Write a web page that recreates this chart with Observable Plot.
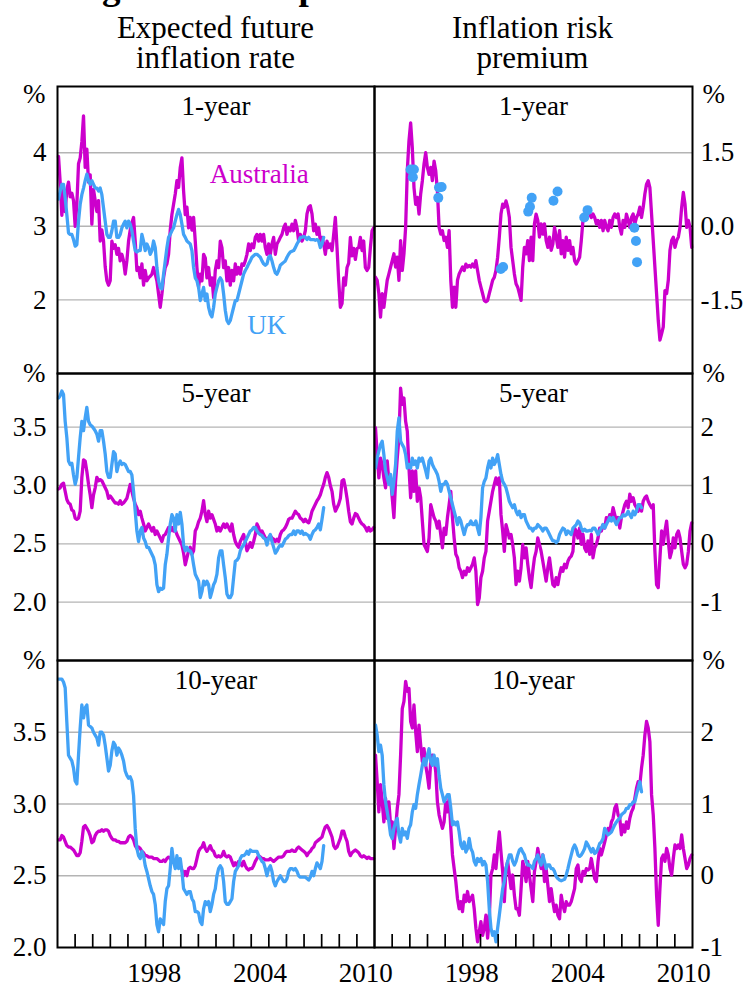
<!DOCTYPE html>
<html>
<head>
<meta charset="utf-8">
<script src="https://cdn.jsdelivr.net/npm/d3@7"></script>
<script src="https://cdn.jsdelivr.net/npm/@observablehq/plot@0.6"></script>
<style>
  body { margin: 0; background: #fff; }
  #page { position: relative; width: 747px; height: 985px; overflow: hidden; background: #fff;
          font-family: "Liberation Serif", "Times New Roman", serif; color: #000; }
  .main-title { position: absolute; left: 69px; top: -32px; font-size: 37px; line-height: 37px;
                font-weight: bold; white-space: nowrap; }
  .col-title { position: absolute; width: 317px; text-align: center;
               font-size: 31px; line-height: 30px; white-space: nowrap; }
  .panel { position: absolute; }
</style>
</head>
<body>
<div id="page">
  <div class="main-title">Figure 9: Comparison with UK Estimates</div>
  <div class="col-title" style="left:57px;top:13px">Expected future</div>
  <div class="col-title" style="left:57px;top:43px">inflation rate</div>
  <div class="col-title" style="left:374px;top:13px">Inflation risk</div>
  <div class="col-title" style="left:374px;top:43px">premium</div>
</div>
<script>
// ---------- data (samples every ~4.9 weeks, first sample early Jan 1993) ----------
const START = 1993.057;
const STEP = 0.0947;

const auExp1 = [3.95,3.6,3.15,3.5,3.2,3.5,3.6,3.4,3.45,3.35,
3.0,3.3,3.85,3.93,4.15,4.5,3.8,4.05,3.6,3.7,
3.03,3.5,3.35,3.2,3.35,2.8,2.95,2.8,2.45,2.26,
2.2,2.26,2.8,2.7,2.75,2.62,2.7,2.53,2.62,2.53,
2.35,2.53,2.8,2.95,3.05,3.12,2.8,2.4,2.44,2.3,
2.49,2.2,2.4,2.26,2.3,2.32,2.35,2.44,2.35,2.26,
2.08,1.9,2.08,2.3,2.44,2.49,2.62,2.95,3.16,3.3,
3.44,3.62,3.53,3.8,3.93,3.48,3.16,3.26,2.98,3.12,
2.95,3.12,2.8,2.44,2.17,2.35,2.26,2.62,2.57,2.3,
2.44,2.2,2.3,2.03,2.4,2.53,2.44,2.8,2.71,2.44,
2.53,2.26,2.44,2.2,2.4,2.26,2.49,2.35,2.44,2.35,
2.49,2.47,2.53,2.62,2.76,2.67,2.76,2.71,2.85,2.89,
2.8,2.89,2.8,2.89,2.71,2.62,2.76,2.62,2.76,2.85,
2.62,2.76,2.8,2.85,2.89,2.98,3.03,2.89,2.98,2.94,
3.03,2.94,3.08,2.98,2.8,2.89,2.8,2.85,2.94,3.17,
3.26,3.28,3.17,2.94,3.03,2.89,2.98,2.8,2.85,2.76,
2.62,2.8,2.71,2.76,2.67,2.89,3.12,2.71,2.26,1.9,
1.95,2.3,2.2,2.44,2.5,2.85,2.6,2.7,2.55,2.7,
2.71,2.85,2.67,2.8,2.44,2.4,2.44,2.71,2.94,2.98];

const ukExp1 = [3.37,3.48,3.57,3.57,3.39,3.16,2.91,2.89,2.89,2.82,
2.73,2.75,3.07,3.3,3.43,3.52,3.62,3.71,3.62,3.57,
3.62,3.57,3.52,3.52,3.48,3.52,3.43,3.25,3.07,2.89,
2.85,2.85,2.94,3.07,3.07,2.85,2.85,2.89,2.98,3.03,
3.07,2.98,3.07,3.03,2.94,2.8,2.67,2.65,2.67,2.67,
2.89,2.8,2.67,2.76,2.71,2.62,2.67,2.8,2.71,2.44,
2.26,2.17,2.15,2.35,2.53,2.71,2.85,2.89,2.94,2.98,
3.07,3.16,3.23,3.16,3.03,2.89,2.85,2.8,2.78,2.76,
2.67,2.44,2.3,2.26,2.17,1.99,2.08,2.17,1.99,2.08,
1.9,1.81,1.77,1.9,2.08,2.17,2.26,2.3,2.26,2.08,
1.86,1.72,1.68,1.72,1.81,1.9,1.99,1.99,2.08,2.17,
2.26,2.35,2.4,2.44,2.49,2.53,2.58,2.6,2.62,2.62,
2.6,2.58,2.53,2.49,2.47,2.49,2.58,2.6,2.53,2.44,
2.37,2.35,2.4,2.47,2.49,2.51,2.53,2.58,2.62,2.65,
2.66,2.67,2.71,2.76,2.8,2.85,2.85,2.86,2.85,2.82,
2.85,2.82,2.82,2.82,2.81,2.82,2.8,2.71,2.76,2.85];

const auRisk1 = [-1.04,-1.1,-1.37,-1.85,-1.37,-1.65,-1.37,-1.1,-0.97,-0.83,
-0.7,-0.56,-0.83,-0.63,-1.1,-0.29,-0.9,-0.56,-0.02,1.13,
1.74,2.11,1.6,0.79,0.45,0.59,0.25,0.66,0.93,1.27,
1.5,1.2,1.06,1.2,0.93,1.33,1.13,0.72,-0.02,-0.16,
-0.09,-0.29,-0.22,-0.43,-0.09,-1.1,-1.65,-1.24,-1.65,-1.1,
-0.97,-0.9,-0.83,-0.9,-0.77,-0.83,-0.8,-0.83,-0.77,-0.83,
-0.7,-0.9,-1.1,-1.24,-1.37,-1.51,-1.54,-1.51,-1.37,-1.24,
-1.1,-1.04,-0.9,-0.63,-0.22,0.25,0.45,0.39,0.52,0.39,
0.18,-0.43,-0.7,-0.97,-1.17,-1.24,-1.37,-1.51,-0.83,-0.43,
-0.56,-0.29,-0.7,-0.22,-0.7,0.05,0.25,0.12,-0.22,0.05,
-0.16,0.05,-0.29,-0.43,-0.22,-0.49,-0.36,-0.02,-0.22,-0.43,
-0.09,-0.56,-0.29,-0.63,-0.22,-0.49,-0.29,-0.56,-0.43,-0.7,
-0.77,-0.7,-0.63,-0.29,0.12,0.18,0.25,0.32,0.25,0.18,
0.25,0.18,0.05,0.12,-0.02,0.12,-0.09,0.12,-0.02,-0.09,
0.12,-0.02,0.18,0.25,0.18,0.25,-0.02,-0.16,0.12,-0.02,
0.25,0.12,-0.02,0.18,0.25,0.05,0.18,0.25,0.39,0.18,
0.39,0.66,0.86,0.93,0.79,0.25,-0.29,-0.83,-1.37,-1.92,
-2.32,-2.19,-2.05,-1.31,-1.37,-1.1,-0.49,-0.29,-0.22,-0.43,
-0.29,-0.22,-0.02,0.39,0.69,0.45,-0.02,0.12,-0.02,-0.43];

// UK 1-year risk premium: isolated estimates (year, %)
const ukRisk1Dates = [1995.04,1995.23,1995.17,1996.65,1996.80,1996.61,2000.15,2000.28,2001.70,2001.80,2001.90,2003.13,2003.36,2004.87,2005.06,2007.71,2007.80,2007.86];
const ukRisk1Vals  = [1.16,1.16,1.0,0.79,0.8,0.58,-0.87,-0.83,0.3,0.4,0.58,0.52,0.71,0.18,0.33,-0.03,-0.3,-0.73];

const auExp5 = [2.97,2.98,3.01,3.02,2.95,2.88,2.85,2.84,2.79,2.78,
2.72,2.71,2.72,2.78,3.07,3.22,3.21,3.12,3.01,2.92,
2.81,2.92,2.98,3.07,3.04,3.05,3.04,3.01,2.98,2.95,
2.89,2.91,2.89,2.87,2.85,2.85,2.84,2.87,2.84,2.85,
2.87,2.89,2.95,3.01,2.95,2.89,2.84,2.81,2.75,2.78,
2.72,2.67,2.61,2.64,2.67,2.64,2.61,2.64,2.58,2.61,
2.58,2.55,2.52,2.57,2.58,2.61,2.64,2.61,2.64,2.61,
2.62,2.58,2.55,2.52,2.49,2.42,2.32,2.38,2.44,2.47,
2.41,2.44,2.61,2.64,2.69,2.72,2.78,2.87,2.75,2.69,
2.78,2.72,2.75,2.71,2.67,2.61,2.64,2.61,2.64,2.67,
2.64,2.67,2.64,2.61,2.67,2.58,2.52,2.49,2.47,2.52,
2.55,2.58,2.52,2.44,2.47,2.51,2.47,2.52,2.58,2.67,
2.64,2.58,2.61,2.58,2.55,2.54,2.55,2.57,2.55,2.54,
2.52,2.54,2.52,2.58,2.61,2.62,2.64,2.67,2.71,2.72,
2.72,2.75,2.78,2.76,2.75,2.72,2.71,2.69,2.71,2.69,
2.68,2.72,2.78,2.81,2.84,2.87,2.89,2.92,2.97,3.01,
3.07,3.11,3.07,3.0,2.95,2.84,2.78,2.81,2.84,2.89,
3.04,3.05,2.98,2.89,2.78,2.69,2.67,2.72,2.76,2.75,
2.72,2.69,2.67,2.66,2.64,2.61,2.64,2.61,2.62,2.64];

const ukExp5 = [3.75,3.77,3.81,3.78,3.55,3.41,3.21,3.18,3.19,3.09,
3.01,3.07,3.24,3.41,3.55,3.47,3.58,3.67,3.55,3.52,
3.51,3.49,3.47,3.44,3.38,3.47,3.47,3.38,3.27,3.12,
3.07,3.07,3.18,3.29,3.27,3.12,3.18,3.21,3.18,3.19,
3.18,3.15,3.12,3.12,3.09,2.95,2.78,2.61,2.52,2.61,
2.64,2.55,2.52,2.47,2.47,2.44,2.41,2.38,2.32,2.15,
2.09,2.12,2.11,2.12,2.32,2.41,2.55,2.67,2.75,2.72,
2.61,2.75,2.67,2.77,2.67,2.49,2.44,2.47,2.44,2.44,
2.41,2.32,2.24,2.21,2.18,2.04,2.09,2.18,2.15,2.18,
2.15,2.04,2.09,2.15,2.18,2.24,2.38,2.44,2.44,2.32,
2.21,2.07,2.04,2.04,2.07,2.21,2.35,2.36,2.38,2.44,
2.47,2.49,2.52,2.55,2.58,2.61,2.62,2.64,2.64,2.61,
2.59,2.58,2.57,2.55,2.54,2.49,2.55,2.58,2.52,2.47,
2.42,2.44,2.47,2.49,2.48,2.51,2.54,2.55,2.57,2.58,
2.58,2.61,2.58,2.61,2.61,2.59,2.61,2.58,2.59,2.58,
2.57,2.54,2.58,2.61,2.62,2.64,2.67,2.62,2.71,2.81];

const auRisk5 = [1.99,1.53,1.13,1.47,1.36,1.13,0.96,1.42,1.07,1.13,
0.79,0.45,1.07,1.47,1.82,2.67,2.39,2.5,2.1,1.93,
1.3,0.79,1.25,0.9,1.25,0.73,0.96,0.79,0.39,-0.01,
-0.07,-0.13,0.1,0.67,0.56,0.45,0.39,0.27,0.39,0.16,
-0.07,0.27,0.16,0.45,0.67,0.9,0.45,0.1,-0.18,-0.24,
-0.41,-0.47,-0.58,-0.47,-0.53,-0.41,-0.47,-0.41,-0.35,-0.24,
-0.47,-1.04,-0.93,-0.58,-0.47,-0.24,-0.13,0.39,0.56,0.73,
0.9,1.02,1.13,1.02,1.13,0.5,0.22,-0.13,0.33,0.22,
0.1,0.16,-0.01,-0.24,-0.7,-0.47,-0.64,-0.41,-0.01,-0.24,
-0.07,-0.35,-0.58,-0.75,-0.47,-0.24,-0.13,0.1,-0.01,-0.13,
-0.3,-0.47,-0.64,-0.41,-0.24,-0.47,-0.7,-0.73,-0.58,-0.7,
-0.53,-0.41,-0.47,-0.35,-0.41,-0.3,-0.24,-0.21,-0.13,0.27,
0.22,0.1,0.27,-0.01,0.16,-0.07,-0.13,0.05,-0.18,0.16,
-0.24,-0.07,-0.01,0.1,0.27,0.22,0.33,0.27,0.45,0.39,
0.5,0.45,0.62,0.5,0.39,0.45,0.27,0.45,0.56,0.67,
0.73,0.62,0.85,0.73,0.79,0.67,0.62,0.56,0.67,0.56,
0.73,0.79,0.82,0.73,0.67,0.62,0.67,-0.13,-0.7,-0.75,
-0.24,0.22,-0.01,0.22,0.39,0.05,-0.24,-0.13,0.1,-0.07,
0.16,0.22,0.1,-0.13,-0.35,-0.41,-0.35,-0.13,0.22,0.36];

const ukRisk5 = [1.3,1.47,1.59,1.7,1.76,1.53,1.25,1.13,1.02,1.19,
0.85,1.07,1.36,1.93,2.16,1.76,1.7,1.65,1.53,1.3,
1.36,1.3,1.47,1.36,1.42,1.3,1.47,1.42,1.47,1.36,
1.25,1.13,1.42,1.47,1.36,1.3,1.25,1.19,1.07,0.9,
1.02,1.02,1.07,1.02,0.9,0.79,0.67,0.56,0.45,0.33,
0.45,0.39,0.27,0.16,0.27,0.33,0.33,0.39,0.33,0.33,
0.39,0.27,0.16,0.45,0.96,1.07,1.13,1.3,1.42,1.3,
1.47,1.36,1.42,1.53,1.36,1.19,1.07,1.02,0.96,0.85,
0.73,0.67,0.62,0.67,0.56,0.5,0.56,0.45,0.5,0.5,
0.39,0.33,0.27,0.27,0.22,0.27,0.27,0.33,0.3,0.27,
0.22,0.27,0.27,0.22,0.16,0.1,0.05,0.05,0.02,0.05,
0.16,0.22,0.27,0.25,0.16,0.22,0.19,0.16,0.27,0.3,
0.33,0.39,0.36,0.27,0.22,0.25,0.22,0.22,0.23,0.22,
0.27,0.27,0.22,0.16,0.22,0.27,0.33,0.27,0.33,0.39,
0.45,0.39,0.45,0.39,0.33,0.39,0.45,0.45,0.5,0.48,
0.5,0.56,0.5,0.45,0.56,0.5,0.56,0.67,0.67,0.62];

const auExp10 = [2.75,2.75,2.78,2.77,2.74,2.71,2.7,2.7,2.69,2.68,
2.66,2.64,2.64,2.66,2.74,2.84,2.85,2.83,2.81,2.78,
2.73,2.74,2.78,2.8,2.81,2.81,2.82,2.81,2.82,2.82,
2.81,2.78,2.76,2.75,2.75,2.74,2.74,2.73,2.73,2.73,
2.73,2.74,2.77,2.78,2.77,2.75,2.71,2.69,2.7,2.69,
2.67,2.66,2.64,2.64,2.63,2.63,2.63,2.62,2.62,2.62,
2.61,2.6,2.6,2.61,2.6,2.62,2.63,2.62,2.6,2.59,
2.6,2.59,2.6,2.57,2.54,2.5,2.53,2.5,2.55,2.56,
2.55,2.55,2.57,2.62,2.67,2.69,2.7,2.73,2.69,2.67,
2.69,2.71,2.68,2.67,2.64,2.63,2.64,2.63,2.64,2.67,
2.64,2.63,2.64,2.63,2.6,2.57,2.59,2.57,2.6,2.59,
2.57,2.6,2.57,2.55,2.54,2.55,2.55,2.57,2.6,2.62,
2.64,2.63,2.62,2.62,2.61,2.61,2.61,2.62,2.61,2.6,
2.61,2.62,2.63,2.63,2.63,2.64,2.66,2.67,2.67,2.67,
2.68,2.67,2.67,2.69,2.7,2.69,2.68,2.67,2.66,2.64,
2.66,2.67,2.69,2.7,2.73,2.74,2.75,2.76,2.77,2.81,
2.84,2.85,2.83,2.8,2.77,2.71,2.69,2.7,2.73,2.76,
2.81,2.81,2.77,2.74,2.67,2.64,2.66,2.67,2.68,2.67,
2.66,2.64,2.63,2.64,2.63,2.62,2.63,2.62,2.62,2.62];

const ukExp10 = [3.87,3.87,3.87,3.85,3.81,3.57,3.34,3.32,3.3,3.25,
3.16,3.14,3.34,3.53,3.69,3.6,3.67,3.69,3.55,3.54,
3.53,3.5,3.48,3.46,3.41,3.5,3.5,3.48,3.41,3.32,
3.23,3.27,3.37,3.43,3.41,3.34,3.39,3.37,3.34,3.3,
3.23,3.2,3.18,3.19,3.16,3.06,2.83,2.69,2.64,2.62,
2.67,2.64,2.57,2.53,2.48,2.43,2.39,2.37,2.3,2.16,
2.11,2.2,2.18,2.16,2.32,2.41,2.43,2.55,2.69,2.6,
2.55,2.64,2.55,2.62,2.53,2.41,2.39,2.37,2.39,2.39,
2.34,2.32,2.25,2.25,2.24,2.18,2.16,2.27,2.32,2.3,
2.32,2.25,2.3,2.37,2.41,2.5,2.55,2.57,2.55,2.46,
2.32,2.3,2.3,2.32,2.34,2.46,2.53,2.55,2.57,2.62,
2.64,2.64,2.65,2.67,2.65,2.68,2.67,2.67,2.67,2.67,
2.64,2.62,2.6,2.59,2.55,2.5,2.55,2.57,2.53,2.46,
2.43,2.46,2.48,2.5,2.48,2.46,2.46,2.48,2.53,2.55,
2.55,2.54,2.55,2.53,2.5,2.49,2.49,2.49,2.49,2.48,
2.47,2.49,2.53,2.5,2.55,2.59,2.57,2.55,2.6,2.71];

const auRisk10 = [1.68,1.31,0.89,1.27,1.03,0.75,1.08,0.8,1.03,0.71,
0.75,0.38,0.66,0.94,1.13,1.68,2.33,2.43,2.71,2.57,
2.61,2.15,2.06,2.38,2.01,1.73,2.1,1.82,1.59,1.77,
1.54,1.4,1.22,1.59,1.68,1.63,1.45,1.03,0.85,0.75,
0.66,0.75,1.03,0.89,1.08,0.66,0.29,0.1,-0.08,-0.32,
-0.46,-0.36,-0.5,-0.27,-0.36,-0.22,-0.36,-0.32,-0.27,-0.46,
-0.73,-0.92,-0.78,-0.64,-0.83,-0.73,-0.55,-0.87,-0.6,0.01,
0.1,0.29,0.1,0.38,0.61,0.33,0.06,-0.36,0.1,0.2,
0.01,-0.18,0.01,-0.27,-0.46,-0.46,-0.55,-0.18,0.2,0.1,
-0.08,0.2,0.01,-0.18,-0.36,0.06,0.2,0.38,0.24,0.1,
0.29,-0.08,0.1,-0.13,-0.36,-0.18,-0.36,-0.5,-0.41,-0.55,
-0.6,-0.27,-0.41,-0.5,-0.36,-0.41,-0.41,-0.36,-0.27,-0.18,
0.1,0.15,-0.04,-0.08,0.06,0.01,0.1,0.08,0.1,0.24,
0.1,-0.04,-0.08,0.2,0.38,0.29,0.38,0.47,0.57,0.66,
0.61,0.75,0.8,0.94,0.99,0.85,0.8,0.57,0.71,0.61,
0.75,0.66,0.8,0.89,0.94,1.08,1.22,1.31,1.27,1.5,
1.68,1.96,2.15,2.06,1.87,1.13,0.85,0.38,-0.27,-0.69,
-0.18,0.24,0.29,0.2,0.38,0.29,0.1,0.01,0.24,0.43,
0.38,0.43,0.38,0.57,0.38,0.24,0.1,0.15,0.24,0.29];

const ukRisk10 = [2.1,1.96,1.73,1.82,1.68,1.27,1.03,0.89,0.75,0.57,
0.52,0.66,0.75,0.8,0.57,0.47,0.66,0.57,0.61,0.52,
0.66,0.71,0.89,0.99,0.94,1.13,1.27,1.4,1.54,1.63,
1.54,1.68,1.77,1.59,1.54,1.68,1.54,1.63,1.4,1.22,
1.13,1.03,1.08,1.13,1.13,0.94,0.71,0.75,0.71,0.75,
0.61,0.43,0.38,0.47,0.33,0.38,0.52,0.38,0.33,0.2,
0.15,0.24,0.2,0.24,0.15,0.2,0.15,-0.08,-0.46,-0.73,
-0.83,-0.78,-0.92,-0.73,-0.55,-0.36,-0.18,-0.08,0.1,0.2,
0.29,0.29,0.2,0.15,0.2,0.29,0.36,0.38,0.33,0.29,
0.2,0.15,0.15,0.13,0.1,0.2,0.24,0.29,0.2,0.15,
0.29,0.2,0.1,0.15,0.15,0.1,0.1,0.06,-0.01,-0.04,
-0.06,-0.07,-0.06,-0.05,0.01,0.1,0.2,0.29,0.38,0.43,
0.38,0.29,0.27,0.29,0.33,0.38,0.47,0.43,0.38,0.33,
0.38,0.31,0.33,0.38,0.45,0.47,0.52,0.66,0.61,0.57,
0.59,0.61,0.66,0.71,0.75,0.78,0.8,0.85,0.87,0.89,
0.94,0.94,0.99,0.99,1.03,1.03,1.13,1.22,1.31,1.17];

// axis ticks / labels
const tickYears = [1994,1995,1996,1997,1998,1999,2000,2001,2002,2003,2004,2005,2006,2007,2008,2009,2010];
const yearLabels = [1998, 2004, 2010];
const ticksL1 = [2, 3, 4];
const ticksR1 = [-1.5, 0, 1.5];
const ticksL5 = [2, 2.5, 3, 3.5];
const ticksR5 = [-1, 0, 1, 2];
const ticksL10 = [2, 2.5, 3, 3.5];
const ticksR10 = [-1, 0, 1, 2];

// ---------- drawing ----------
const MAG = "#cc00cc", BLUE = "#42a2f6", GRID = "#b4b4b4";
const FONT = "Liberation Serif, Times New Roman, serif";
const toRows = vals => vals.map((v, i) => ({date: START + i * STEP, value: v}));
const ukDots = ukRisk1Dates.map((d, i) => ({date: d, value: ukRisk1Vals[i]}));

const FRAME_TOPS = [86, 373, 660];
const FH = 287, MT = 20;

const panels = [
  {row: 0, col: 0, domain: [1, 4.9], ticks: ticksL1, fmt: d => d.toFixed(0), title: "1-year",
   lines: [[auExp1, MAG], [ukExp1, BLUE]],
   labels: [{date: 2004.45, value: 3.705, text: "Australia", color: MAG}, {date: 2004.875, value: 1.65, text: "UK", color: BLUE}]},
  {row: 0, col: 1, domain: [-3, 2.85], ticks: ticksR1, fmt: d => d.toFixed(1), title: "1-year",
   lines: [[auRisk1, MAG]], dots: ukDots},
  {row: 1, col: 0, domain: [1.5, 3.96], ticks: ticksL5, fmt: d => d.toFixed(1), title: "5-year",
   lines: [[auExp5, MAG], [ukExp5, BLUE]]},
  {row: 1, col: 1, domain: [-2, 2.92], ticks: ticksR5, fmt: d => String(d), title: "5-year",
   lines: [[auRisk5, MAG], [ukRisk5, BLUE]]},
  {row: 2, col: 0, domain: [2, 4], ticks: ticksL10, fmt: d => d.toFixed(1), title: "10-year",
   lines: [[auExp10, MAG], [ukExp10, BLUE]]},
  {row: 2, col: 1, domain: [-1, 3], ticks: ticksR10, fmt: d => String(d), title: "10-year",
   lines: [[auRisk10, MAG], [ukRisk10, BLUE]]}
];

const page = document.getElementById("page");

for (const p of panels) {
  const right = p.col === 1;
  const mb = p.row === 2 ? 38 : 0;
  const grid = p.ticks.filter(t => t > p.domain[0] && (!right || t !== 0));
  const marks = [
    Plot.ruleY(grid, {y: d => d, stroke: GRID, strokeWidth: 1.4}),
    right ? Plot.ruleY([0], {y: d => d, stroke: "black", strokeWidth: 1.6}) : null,
    ...p.lines.map(([vals, color]) =>
      Plot.line(toRows(vals), {x: "date", y: "value", stroke: color, strokeWidth: 3.3})),
    p.dots ? Plot.dot(p.dots, {x: "date", y: "value", r: 5, fill: BLUE, stroke: "none"}) : null,
    p.labels ? Plot.text(p.labels, {x: "date", y: "value", text: "text", fill: d => d.color,
      fontSize: 27, fontFamily: FONT, lineAnchor: "middle"}) : null,
    Plot.text([p.title], {frameAnchor: "top", dy: 20, lineAnchor: "middle", fontSize: 27, fontFamily: FONT, fill: "black"}),
    Plot.text(p.ticks, {y: d => d, text: p.fmt, frameAnchor: right ? "right" : "left",
      dx: right ? 8 : -11, textAnchor: right ? "start" : "end", lineAnchor: "middle",
      fontSize: 27, fontFamily: FONT, fill: "black"}),
    Plot.text(["%"], {frameAnchor: right ? "top-right" : "top-left", dx: right ? 10 : -12,
      dy: p.row === 0 ? 7.5 : 0, textAnchor: right ? "start" : "end", lineAnchor: "middle",
      fontSize: 27, fontFamily: FONT, fill: "black"}),
    p.row === 2 ? Plot.ruleX(tickYears, {x: d => d, insetTop: FH - 13, stroke: "black", strokeWidth: 1.7}) : null,
    p.row === 2 ? Plot.text(yearLabels, {x: d => d + 0.5, text: d => String(d), frameAnchor: "bottom",
      lineAnchor: "top", dy: 15, fontSize: 27, fontFamily: FONT, fill: "black"}) : null,
    Plot.frame({stroke: "black", strokeWidth: 2})
  ].filter(Boolean);

  const chart = Plot.plot({
    width: right ? 373 : 374,
    height: FH + MT + mb,
    marginTop: MT,
    marginBottom: mb,
    marginLeft: right ? 0 : 57,
    marginRight: right ? 55 : 0,
    x: {type: "linear", domain: [1993, 2011], axis: null, label: null},
    y: {type: "linear", domain: p.domain, axis: null, label: null},
    style: {background: "transparent", overflow: "visible", fontFamily: FONT, fontSize: "27px", color: "black"},
    marks
  });
  const wrap = document.createElement("div");
  wrap.className = "panel";
  wrap.style.left = (right ? 374 : 0) + "px";
  wrap.style.top = (FRAME_TOPS[p.row] - MT) + "px";
  wrap.appendChild(chart);
  page.appendChild(wrap);
}
</script>
</body>
</html>
